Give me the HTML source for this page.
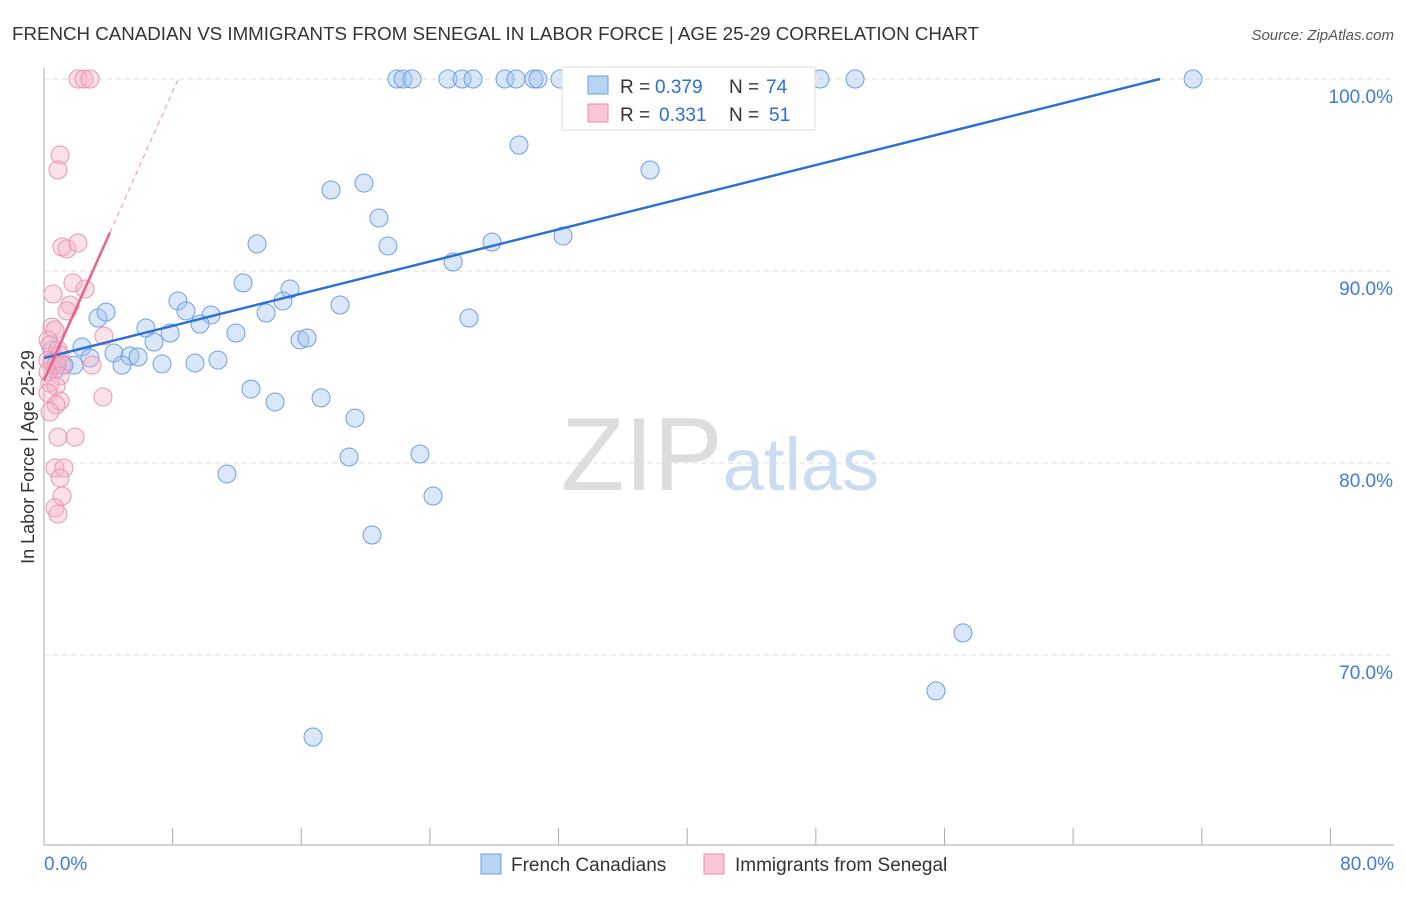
<!DOCTYPE html>
<html><head><meta charset="utf-8"><style>
body{margin:0;background:#fff;font-family:"Liberation Sans",sans-serif}
svg text{font-family:"Liberation Sans",sans-serif}
</style></head><body>
<svg id="c" width="1406" height="892">
<text x="12" y="40" font-size="18" fill="#333" textLength="967" lengthAdjust="spacingAndGlyphs">FRENCH CANADIAN VS IMMIGRANTS FROM SENEGAL IN LABOR FORCE | AGE 25-29 CORRELATION CHART</text>
<text x="1394" y="40" font-size="15" fill="#555" font-style="italic" text-anchor="end">Source: ZipAtlas.com</text>
<text x="720" y="490" font-size="104" fill="#ddd" text-anchor="middle" font-family="Liberation Serif">ZIP<tspan fill="#c9dcf2" font-family="Liberation Sans" font-size="74">atlas</tspan></text>
<g id="grid"></g><g id="axes"></g><g id="pts"></g><g id="lines"></g>
<text transform="translate(34,457) rotate(-90)" font-size="18" fill="#333" text-anchor="middle">In Labor Force | Age 25-29</text>
<g>
<rect x="562" y="67" width="253" height="63" fill="#fff" stroke="#ddd"/>
<rect x="588" y="76" width="20" height="18" fill="#b8d4f5" stroke="#6a9ee0"/>
<text x="620" y="93" font-size="19" fill="#333">R = </text><text x="655" y="93" font-size="19" fill="#2c6fd6">0.379</text>
<text x="729" y="93" font-size="19" fill="#333">N = </text><text x="766" y="93" font-size="19" fill="#2c6fd6">74</text>
<rect x="588" y="104" width="20" height="18" fill="#f9c6d5" stroke="#ec8fab"/>
<text x="620" y="121" font-size="19" fill="#333">R = </text><text x="659" y="121" font-size="19" fill="#2c6fd6">0.331</text>
<text x="729" y="121" font-size="19" fill="#333">N = </text><text x="769" y="121" font-size="19" fill="#2c6fd6">51</text>
</g>
<g>
<rect x="481" y="854" width="20" height="20" fill="#b8d4f5" stroke="#6a9ee0"/>
<text x="511" y="871" font-size="19" fill="#333">French Canadians</text>
<rect x="704" y="854" width="20" height="20" fill="#f9c6d5" stroke="#ec8fab"/>
<text x="735" y="871" font-size="19" fill="#333">Immigrants from Senegal</text>
</g>
</svg>
<script>
const bluePx=[[397,79],[403,79],[412,79],[448,79],[462,79],[473,79],[505,79],[516,79],[534,79],[538,79],[560,79],[610,79],[640,79],[760,79],[820,79],[855,79],[1193,79],[519,145],[650,170],[331,190],[364,183],[379,218],[257,244],[388,246],[492,242],[563,236],[453,262],[243,283],[290,289],[178,301],[283,301],[186,311],[340,305],[266,313],[211,315],[98,318],[106,312],[469,318],[200,324],[146,328],[170,333],[236,333],[154,342],[300,340],[307,338],[82,347],[114,353],[90,358],[130,356],[138,357],[218,360],[195,363],[162,364],[122,365],[74,365],[64,365],[57,365],[251,389],[275,402],[321,398],[355,418],[349,457],[420,454],[433,496],[227,474],[372,535],[963,633],[936,691],[313,737],[55,370],[52,350]];
const pinkPx=[[78,79],[84,79],[90,79],[60,155],[58,170],[62,247],[67,249],[78,243],[73,283],[53,294],[85,289],[70,305],[67,311],[52,327],[55,330],[104,336],[48,340],[50,345],[58,350],[60,355],[48,360],[52,362],[56,364],[62,365],[92,365],[48,372],[60,376],[50,383],[56,386],[48,393],[60,401],[56,405],[50,412],[103,397],[58,437],[75,437],[55,468],[64,468],[60,478],[62,496],[55,508],[58,514]];
const blueX=bluePx.map(p=>+((p[0]-44)/16.08).toFixed(2));
const blueY=bluePx.map(p=>+(100-(p[1]-79)/19.2).toFixed(2));
const pinkX=pinkPx.map(p=>+((p[0]-44)/16.08).toFixed(2));
const pinkY=pinkPx.map(p=>+(100-(p[1]-79)/19.2).toFixed(2));
const blueTrend=[[0,85.47],[69.4,100]];
const pinkTrend=[[0,84.3],[4.1,92.0]];
const pinkDash=[[4.1,92.0],[8.35,100]];
const yTicks=[100,90,80,70];
const xs=v=>44+v*16.08, ys=v=>79+(100-v)*19.2;
const NS='http://www.w3.org/2000/svg';
function mk(t,a,p){const e=document.createElementNS(NS,t);for(const k in a)e.setAttribute(k,a[k]);document.getElementById(p).appendChild(e);return e;}
yTicks.forEach(t=>{
 const l=mk('line',{x1:44,x2:1394,y1:ys(t),y2:ys(t),stroke:'#ddd','stroke-dasharray':'5,4'},'grid');
 
 
 const tx=mk('text',{x:1393,y:ys(t)+24,'font-size':19,fill:'#3f7bd8','text-anchor':'end'},'grid');
 tx.textContent=t.toFixed(1)+'%';
 
 
});
mk('line',{x1:44,x2:44,y1:68,y2:845,stroke:'#aaa'},'axes');
mk('line',{x1:44,x2:1394,y1:845,y2:845,stroke:'#aaa'},'axes');
for(let i=0;i<=10;i++){mk('line',{x1:xs(i*8),x2:xs(i*8),y1:828,y2:845,stroke:'#aaa'},'axes');}
let t0=mk('text',{x:44,y:870,'font-size':19,fill:'#3f7bd8'},'axes');t0.textContent='0.0%';


let t1=mk('text',{x:1394,y:870,'font-size':19,fill:'#3f7bd8','text-anchor':'end'},'axes');t1.textContent='80.0%';


blueX.forEach((x,i)=>{const c=mk('circle',{cx:xs(x),cy:ys(blueY[i]),r:9,fill:'rgba(160,196,240,0.4)',stroke:'#6d9fe2','stroke-width':1},'pts');
 
 });
pinkX.forEach((x,i)=>{const c=mk('circle',{cx:xs(x),cy:ys(pinkY[i]),r:9,fill:'rgba(246,180,200,0.4)',stroke:'#ec93ae','stroke-width':1},'pts');
 
 });
let bl=mk('line',{x1:xs(blueTrend[0][0]),y1:ys(blueTrend[0][1]),x2:xs(blueTrend[1][0]),y2:ys(blueTrend[1][1]),stroke:'#2c6fd6','stroke-width':2.5},'lines');


let pl=mk('line',{x1:xs(pinkTrend[0][0]),y1:ys(pinkTrend[0][1]),x2:xs(pinkTrend[1][0]),y2:ys(pinkTrend[1][1]),stroke:'#e8628e','stroke-width':2.5},'lines');


let pd=mk('line',{x1:xs(pinkDash[0][0]),y1:ys(pinkDash[0][1]),x2:xs(pinkDash[1][0]),y2:ys(pinkDash[1][1]),stroke:'#f0a0b8','stroke-width':1.2,'stroke-dasharray':'5,4'},'lines');


</script>
</body></html>
